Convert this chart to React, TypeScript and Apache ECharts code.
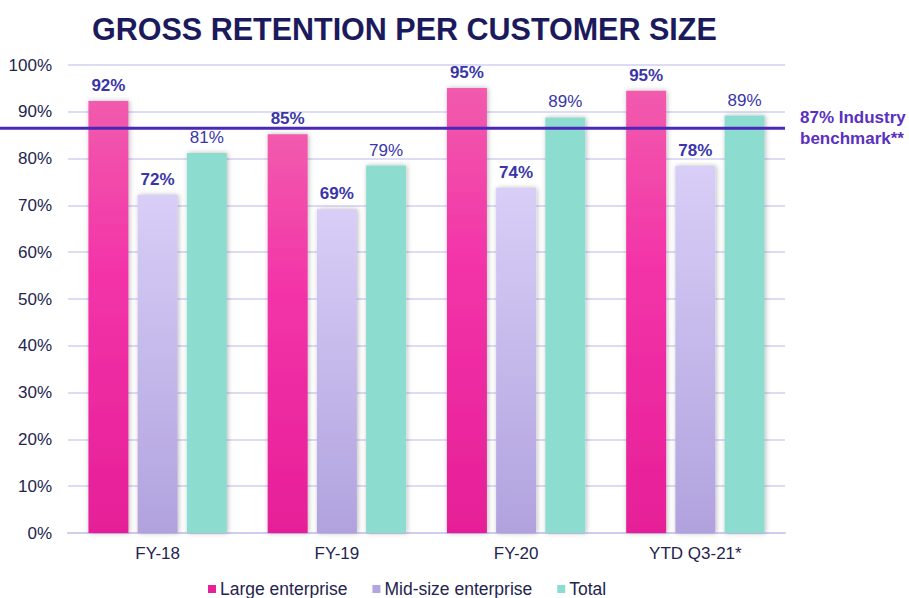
import React, { useEffect, useRef } from "react";
import * as echarts from "echarts";

const categories = ["FY-18", "FY-19", "FY-20", "YTD Q3-21*"];
const largeEnterprise = [92.3, 85.2, 95.1, 94.5];
const midSizeEnterprise = [72.2, 69.2, 73.7, 78.4];
const totalValues = [81.2, 78.5, 88.8, 89.2];
const largeLabels = ["92%", "85%", "95%", "95%"];
const midLabels = ["72%", "69%", "74%", "78%"];
const totalLabels = ["81%", "79%", "89%", "89%"];
const benchmarkValue = 86.5;
const benchmarkText = "87% Industry\nbenchmark**";
const yTicks = { min: 0, max: 100, interval: 10 };

const FONT = "'Liberation Sans', Arial, sans-serif";
const LABEL_COLOR = "#3a36a8";

export default function App() {
  const ref = useRef<HTMLDivElement>(null);

  useEffect(() => {
    if (!ref.current) return;
    const chart = echarts.init(ref.current, undefined, { renderer: "svg" });

    const barShadow = {
      shadowColor: "rgba(0,0,0,0.28)",
      shadowBlur: 5,
      shadowOffsetX: 1,
      shadowOffsetY: 0,
    };

    const mkLabel = (texts: string[], bold: boolean) => ({
      show: true,
      position: "top" as const,
      distance: 7,
      color: LABEL_COLOR,
      fontFamily: FONT,
      fontSize: 17,
      fontWeight: bold ? ("bold" as const) : ("normal" as const),
      formatter: (p: any) => texts[p.dataIndex],
    });

    chart.setOption({
      animation: false,
      backgroundColor: "#ffffff",
      title: {
        text: "GROSS RETENTION PER CUSTOMER SIZE",
        left: 87,
        top: 8,
        textStyle: {
          fontFamily: FONT,
          fontSize: 30.5,
          fontWeight: "bold",
          color: "#1b1a5c",
        },
      },
      grid: { left: 68, right: 124, top: 65, bottom: 65, containLabel: false },
      legend: {
        left: 208,
        top: 580,
        padding: 0,
        itemWidth: 8,
        itemHeight: 8,
        itemGap: 25,
        icon: "rect",
        textStyle: {
          fontFamily: FONT,
          fontSize: 17.5,
          lineHeight: 17,
          color: "#24244f",
          padding: [0, 0, 0, -1],
        },
        data: [
          { name: "Large enterprise", itemStyle: { color: "#e8209a" } },
          { name: "Mid-size enterprise", itemStyle: { color: "#b3a5e0" } },
          { name: "Total", itemStyle: { color: "#8ddcd0" } },
        ],
      },
      xAxis: {
        type: "category",
        data: categories,
        axisLine: { show: true, lineStyle: { color: "#cfccf0", width: 2 } },
        axisTick: { show: false },
        axisLabel: { fontFamily: FONT, fontSize: 17, color: "#24244f", margin: 12 },
      },
      yAxis: {
        type: "value",
        min: yTicks.min,
        max: yTicks.max,
        interval: yTicks.interval,
        axisLine: { show: false },
        axisTick: { show: false },
        axisLabel: {
          formatter: "{value}%",
          fontFamily: FONT,
          fontSize: 17,
          color: "#24244f",
          margin: 16,
        },
        splitLine: { lineStyle: { color: "#d2d0f2", width: 1.5 } },
      },
      series: [
        {
          name: "Large enterprise",
          type: "bar",
          data: largeEnterprise,
          barWidth: 40,
          barGap: "23%",
          itemStyle: {
            color: new echarts.graphic.LinearGradient(0, 0, 0, 1, [
              { offset: 0, color: "#f15bad" },
              { offset: 0.4, color: "#f333a8" },
              { offset: 1, color: "#e61f98" },
            ]),
            ...barShadow,
          },
          label: mkLabel(largeLabels, true),
        },
        {
          name: "Mid-size enterprise",
          type: "bar",
          data: midSizeEnterprise,
          barWidth: 40,
          itemStyle: {
            color: new echarts.graphic.LinearGradient(0, 0, 0, 1, [
              { offset: 0, color: "#d8cef7" },
              { offset: 1, color: "#b1a2de" },
            ]),
            ...barShadow,
          },
          label: mkLabel(midLabels, true),
        },
        {
          name: "Total",
          type: "bar",
          data: totalValues,
          barWidth: 40,
          itemStyle: { color: "#8ddcd0", ...barShadow },
          label: mkLabel(totalLabels, false),
        },
      ],
    });

    const yPix = chart.convertToPixel({ yAxisIndex: 0 }, benchmarkValue) as number;
    const xEnd = chart.getWidth() - 124;
    chart.setOption({
      graphic: [
        {
          type: "line",
          z: 100,
          shape: { x1: 0, y1: yPix, x2: xEnd, y2: yPix },
          style: { stroke: "#4a28b8", lineWidth: 3 },
        },
        {
          type: "text",
          z: 100,
          x: 800,
          y: yPix - 21,
          style: {
            text: benchmarkText,
            fontFamily: FONT,
            fontSize: 17,
            fontWeight: "bold",
            fill: "#5a30c0",
            lineHeight: 21,
          },
        },
      ],
    });

    return () => chart.dispose();
  }, []);

  return <div ref={ref} style={{ width: 909, height: 598, position: "absolute", left: 0, top: 0 }} />;
}
